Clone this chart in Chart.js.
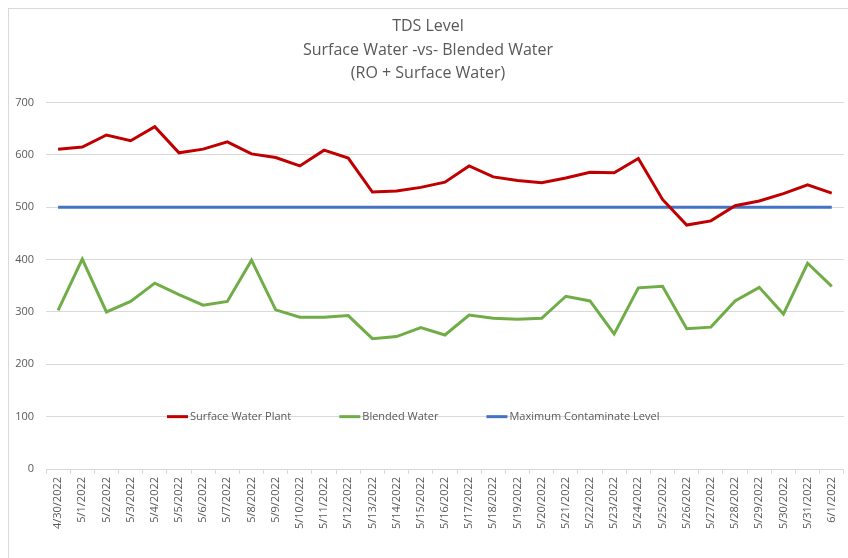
<!DOCTYPE html>
<html>
<head>
<meta charset="utf-8">
<script src="https://cdn.jsdelivr.net/npm/chart.js@4.4.1/dist/chart.umd.min.js"></script>
<style>
    html, body { margin: 0; padding: 0; background: #fff; overflow: hidden; }
    .frame { position: absolute; left: 8px; top: 8px; width: 900px; height: 600px; border: 1px solid #d9d9d9; }
    .wrap { position: absolute; left: 0; top: 0; width: 848px; height: 558px; }
</style>
</head>
<body>
<div class="frame"></div>
<div class="wrap"><canvas id="tds-chart" width="848" height="558"></canvas></div>
<script>
// --- Data ---
const dates = [
    '4/30/2022', '5/1/2022', '5/2/2022', '5/3/2022', '5/4/2022', '5/5/2022', '5/6/2022', '5/7/2022',
    '5/8/2022', '5/9/2022', '5/10/2022', '5/11/2022', '5/12/2022', '5/13/2022', '5/14/2022', '5/15/2022',
    '5/16/2022', '5/17/2022', '5/18/2022', '5/19/2022', '5/20/2022', '5/21/2022', '5/22/2022', '5/23/2022',
    '5/24/2022', '5/25/2022', '5/26/2022', '5/27/2022', '5/28/2022', '5/29/2022', '5/30/2022', '5/31/2022',
    '6/1/2022'
];
const surfaceWater = [
    611, 615, 638, 627, 654, 604, 611, 625, 602, 595, 579, 609, 594, 529, 531, 538,
    548, 579, 558, 551, 547, 556, 567, 566, 593, 515, 466, 474, 503, 512, 526, 543, 527
];
const blendedWater = [
    303, 401, 300, 320, 355, 333, 313, 320, 399, 304, 290, 290, 293, 249, 253, 270,
    256, 294, 288, 286, 288, 330, 321, 258, 346, 349, 268, 271, 321, 347, 296, 393, 349
];
const maxContaminate = dates.map(() => 500);
const yTicks = [0, 100, 200, 300, 400, 500, 600, 700];

const grey = '#595959';
const fontFamily = "'Open Sans', 'Liberation Sans', sans-serif";

// --- Legend drawn inside the plot, Excel style ---
const insideLegend = {
    id: 'insideLegend',
    afterDatasetsDraw(chart) {
        const ctx = chart.ctx;
        const area = chart.chartArea;
        const y = chart.scales.y.getPixelForValue(100);
        ctx.save();
        ctx.font = '11px ' + fontFamily;
        ctx.textBaseline = 'middle';
        const gap = 47;
        let x = area.left + 121;
        chart.data.datasets.forEach(ds => {
            ctx.strokeStyle = ds.borderColor;
            ctx.lineWidth = 3;
            ctx.beginPath();
            ctx.moveTo(x, y);
            ctx.lineTo(x + 21, y);
            ctx.stroke();
            ctx.fillStyle = grey;
            ctx.fillText(ds.label, x + 23, y);
            x += 24 + ctx.measureText(ds.label).width + gap;
        });
        ctx.restore();
    }
};

new Chart(document.getElementById('tds-chart').getContext('2d'), {
    type: 'line',
    data: {
        labels: dates,
        datasets: [
            { label: 'Surface Water Plant', data: surfaceWater, borderColor: '#c00000', borderWidth: 3 },
            { label: 'Blended Water', data: blendedWater, borderColor: '#70ad47', borderWidth: 3 },
            { label: 'Maximum Contaminate Level', data: maxContaminate, borderColor: '#4472c4', borderWidth: 3 }
        ]
    },
    options: {
        responsive: false,
        animation: false,
        elements: { point: { radius: 0 }, line: { tension: 0 } },
        layout: { padding: { left: 10, right: 2, top: 0, bottom: 0 } },
        plugins: {
            legend: { display: false },
            tooltip: { enabled: false },
            title: {
                display: true,
                text: ['TDS Level', 'Surface Water -vs- Blended Water', '(RO + Surface Water)'],
                color: grey,
                font: { family: fontFamily, size: 16, weight: 'normal', lineHeight: 1.47 },
                padding: { top: 15, bottom: 17 }
            }
        },
        scales: {
            x: {
                offset: true,
                grid: { offset: true, drawOnChartArea: false, drawTicks: true, tickLength: 5, color: '#d9d9d9' },
                border: { color: '#d9d9d9' },
                ticks: {
                    color: grey, font: { family: fontFamily, size: 11 },
                    minRotation: 90, maxRotation: 90, autoSkip: false, padding: 3
                },
                afterFit(scale) { scale.height = 89; }
            },
            y: {
                min: 0, max: 700,
                afterBuildTicks(scale) { scale.ticks = yTicks.map(v => ({ value: v })); },
                grid: { color: '#d9d9d9', drawTicks: false },
                border: { display: false },
                ticks: { color: grey, font: { family: fontFamily, size: 11 }, padding: 12 },
                afterFit(scale) { scale.width = 36; }
            }
        }
    },
    plugins: [insideLegend]
});
</script>
</body>
</html>
